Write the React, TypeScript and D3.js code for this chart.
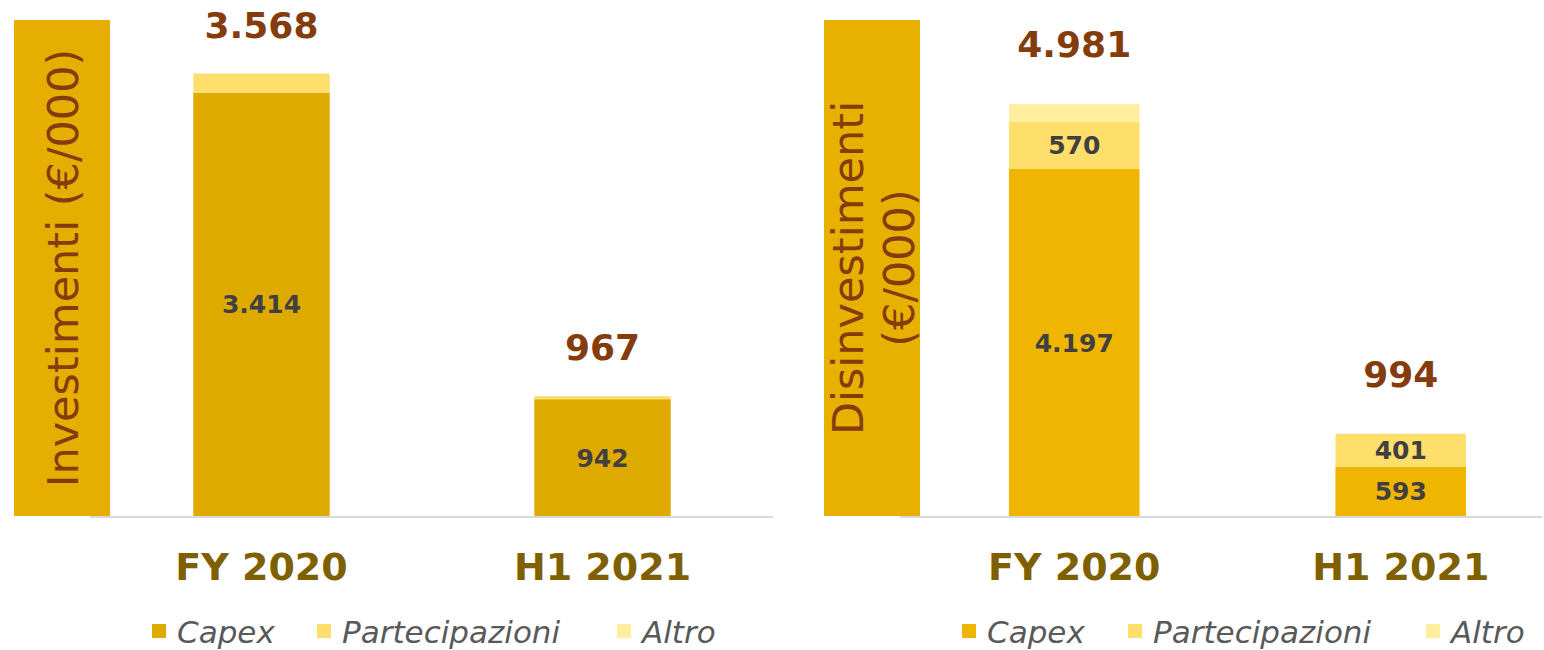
import React, { useRef, useEffect } from "react";
import * as d3 from "d3";

const CATEGORIES = ["FY 2020", "H1 2021"];
const SERIES = ["Capex", "Partecipazioni", "Altro"];

// Investimenti (€/000)
const INV_CAPEX = [3414, 942];
const INV_PARTECIPAZIONI = [154, 25];
const INV_ALTRO = [0, 0];

// Disinvestimenti (€/000)
const DIS_CAPEX = [4197, 593];
const DIS_PARTECIPAZIONI = [570, 401];
const DIS_ALTRO = [214, 0];

const it = d3.formatLocale({ decimal: ",", thousands: ".", grouping: [3], currency: ["€", ""] });
const fmt = it.format(",d");

const FONT = "'DejaVu Sans', sans-serif";

type Panel = {
  title: string[];
  values: number[][];
  colors: string[];
  boxColor: string;
  boxX: [number, number];
  axisX: [number, number];
  bandRange: [number, number];
  yMax: number;
  totalOffset: number;
  labelMin: number;
  legendX: number[];
};

const PANELS: Panel[] = [
  {
    title: ["Investimenti (€/000)"],
    values: [INV_CAPEX, INV_PARTECIPAZIONI, INV_ALTRO],
    colors: ["#DFAA00", "#FFDF6B", "#FFEE9D"],
    boxColor: "#E5AE00",
    boxX: [14, 110],
    axisX: [90, 773],
    bandRange: [91, 773],
    yMax: 4000,
    totalOffset: 49,
    labelMin: 200,
    legendX: [152, 317, 617],
  },
  {
    title: ["Disinvestimenti", "(€/000)"],
    values: [DIS_CAPEX, DIS_PARTECIPAZIONI, DIS_ALTRO],
    colors: ["#EFB500", "#FFDF6B", "#FFEE9D"],
    boxColor: "#E8B000",
    boxX: [824, 920],
    axisX: [900, 1542],
    bandRange: [911, 1564],
    yMax: 6000,
    totalOffset: 60,
    labelMin: 300,
    legendX: [962, 1128, 1426],
  },
];

export default function App() {
  const svgRef = useRef<SVGSVGElement>(null);

  useEffect(() => {
    const svg = d3.select(svgRef.current);
    svg.selectAll("*").remove();
    const top = 20, base = 516;

    PANELS.forEach(p => {
      const g = svg.append("g");
      const x = d3.scaleBand<string>()
        .domain(CATEGORIES)
        .range(p.bandRange)
        .paddingInner(0.6)
        .paddingOuter(0.3);
      const y = d3.scaleLinear().domain([0, p.yMax]).range([base, top]);

      // title box
      g.append("rect")
        .attr("x", p.boxX[0]).attr("y", top)
        .attr("width", p.boxX[1] - p.boxX[0]).attr("height", base - top)
        .attr("fill", p.boxColor);

      const cx = (p.boxX[0] + p.boxX[1]) / 2;
      const lineH = 51;
      p.title.forEach((t, i) => {
        const off = (i - (p.title.length - 1) / 2) * lineH;
        g.append("text")
          .attr("transform", `translate(${cx + off + 16},${(top + base) / 2}) rotate(-90)`)
          .attr("text-anchor", "middle")
          .style("font-family", FONT)
          .style("font-size", "43px")
          .style("fill", "#843C0C")
          .text(t);
      });

      // axis line
      g.append("line")
        .attr("x1", p.axisX[0]).attr("x2", p.axisX[1])
        .attr("y1", base + 1).attr("y2", base + 1)
        .attr("stroke", "#D9D9D9").attr("stroke-width", 2);

      const table = CATEGORIES.map((c, i) => {
        const row: Record<string, any> = { cat: c };
        SERIES.forEach((s, j) => (row[s] = p.values[j][i]));
        return row;
      });
      const stacked = d3.stack<any>().keys(SERIES)(table);

      stacked.forEach((layer, j) => {
        g.append("g")
          .selectAll("rect")
          .data(layer)
          .join("rect")
          .attr("x", d => x(d.data.cat)!)
          .attr("width", x.bandwidth())
          .attr("y", d => y(d[1]))
          .attr("height", d => y(d[0]) - y(d[1]))
          .attr("fill", p.colors[j]);

        g.append("g")
          .selectAll("text")
          .data(layer.filter(d => d[1] - d[0] >= p.labelMin))
          .join("text")
          .attr("x", d => x(d.data.cat)! + x.bandwidth() / 2)
          .attr("y", d => (y(d[0]) + y(d[1])) / 2)
          .attr("dy", "0.36em")
          .attr("text-anchor", "middle")
          .style("font-family", FONT)
          .style("font-weight", 700)
          .style("font-size", "25px")
          .style("fill", "#404040")
          .text(d => fmt(d[1] - d[0]));
      });

      // totals
      g.append("g")
        .selectAll("text")
        .data(table)
        .join("text")
        .attr("x", d => x(d.cat)! + x.bandwidth() / 2)
        .attr("y", d => y(d3.sum(SERIES, s => d[s])) - p.totalOffset)
        .attr("dy", "0.36em")
        .attr("text-anchor", "middle")
        .style("font-family", FONT)
        .style("font-weight", 700)
        .style("font-size", "36px")
        .style("fill", "#843C0C")
        .text(d => fmt(d3.sum(SERIES, s => d[s])));

      // category labels
      g.append("g")
        .selectAll("text")
        .data(CATEGORIES)
        .join("text")
        .attr("x", d => x(d)! + x.bandwidth() / 2)
        .attr("y", 580)
        .attr("text-anchor", "middle")
        .style("font-family", FONT)
        .style("font-weight", 700)
        .style("font-size", "38px")
        .style("fill", "#7F6000")
        .text(d => d);

      // legend
      SERIES.forEach((s, j) => {
        const lx = p.legendX[j];
        g.append("rect")
          .attr("x", lx).attr("y", 624)
          .attr("width", 14).attr("height", 14)
          .attr("fill", p.colors[j]);
        g.append("text")
          .attr("x", lx + 25).attr("y", 643)
          .style("font-family", FONT)
          .style("font-style", "italic")
          .style("font-size", "31px")
          .style("fill", "#595959")
          .text(s);
      });
    });
  }, []);

  return (
    <svg
      ref={svgRef}
      width={1544}
      height={650}
      style={{ position: "absolute", left: 0, top: 0, background: "#fff" }}
    />
  );
}
